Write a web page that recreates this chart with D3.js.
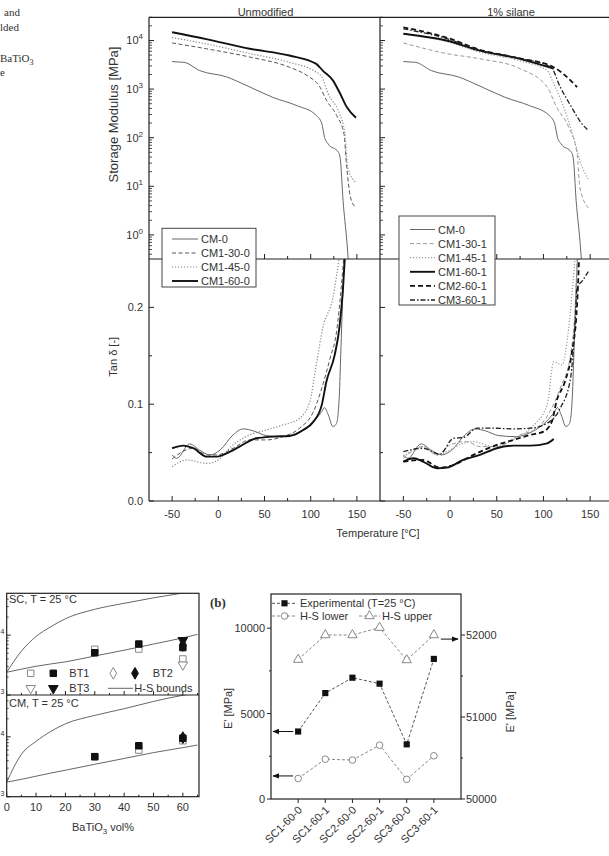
<!DOCTYPE html>
<html><head><meta charset="utf-8">
<script src="https://cdn.jsdelivr.net/npm/d3@7"></script>
<style>
body{margin:0;background:#fff}
svg{display:block}
text{font-family:"Liberation Sans",Arial,sans-serif;fill:#333}
</style>
</head><body>
<svg id="c" width="609" height="856"></svg>
<script>
// ================= DATA =================
// --- Top figure: DMA curves ---
const tempMajor = [-50, 0, 50, 100, 150];
const tempMinor = [-25, 25, 75, 125];
const smMajor = [1, 10, 100, 1000, 10000];
const tanMajor = [0.0, 0.1, 0.2];
const tanMinor = [0.05, 0.15];
const panelTitles = ["Unmodified", "1% silane"];

// Storage modulus [MPa]
const smT_CM0 = [-50,-45,-37,-20,9,31,59,85,106,112,115,119,130,132,135,139,141];
const smE_CM0 = [3700,3630,3550,2400,1780,1175,676,457,288,195,102,74,50,37,5.1,0.78,0.25];
const smT_CM1_30_0 = [-50,-13,34,77,96,110,117,128,136,139,143,148];
const smE_CM1_30_0 = [8900,6760,4570,2820,1900,1100,590,288,120,24.5,6.0,3.8];
const smT_CM1_45_0 = [-50,-13,34,77,103,112,119,131,137,140,149];
const smE_CM1_45_0 = [11500,8500,5400,3550,2400,1780,794,316,123,24.5,12];
const smT_CM1_60_0 = [-50,-13,34,77,106,113,124,131,139,149];
const smE_CM1_60_0 = [14800,10700,6760,4900,3310,2400,1510,870,427,257];
const smT_CM1_30_1 = [-50,-4,32,75,104,114,127,136,139,148];
const smE_CM1_30_1 = [8900,5400,4200,2630,1100,427,166,47,9.5,3.6];
const smT_CM1_45_1 = [-50,-4,32,75,104,111,123,136,139,148];
const smE_CM1_45_1 = [13800,9500,5750,3800,2400,1290,363,55,34,14];
const smT_CM1_60_1 = [-50,-4,32,75,111];
const smE_CM1_60_1 = [13800,10000,6200,4200,2630];
const smT_CM2_60_1 = [-50,-4,32,75,111,125,136];
const smE_CM2_60_1 = [18600,11500,6450,4270,2820,1780,1100];
const smT_CM3_60_1 = [-50,-4,32,75,108,118,130,141,148];
const smE_CM3_60_1 = [17400,11000,6300,4270,2820,1100,427,195,141];

// Tan delta [-]
const tdT_CM0 = [-50,-45,-31,-20,-9,2,16,27,38,52,70,88,103,112,115,119,124,128,131,132.5,135,137];
const tdV_CM0 = [.0476,.0441,.059,.0524,.0476,.0527,.0683,.0745,.0724,.0676,.0665,.0717,.082,.0924,.0965,.089,.0769,.0803,.1096,.151,.22,.26];
const tdT_CM1_30_0 = [-50,-38,-27,-12.5,-2,16,34,52,70,88,103,112,121,128,133,136.5];
const tdV_CM1_30_0 = [.0435,.0514,.0545,.0476,.0476,.0545,.0631,.0631,.0665,.0752,.0924,.1165,.1476,.175,.22,.26];
const tdT_CM1_45_0 = [-50,-34,-12.5,-2,16,34,52,70,88,99,106,113,124,132];
const tdV_CM1_45_0 = [.0355,.0424,.0389,.0413,.058,.0683,.0734,.0786,.0855,.1027,.1406,.1786,.21,.26];
const tdT_CM1_60_0 = [-50,-38,-27,-12.5,-2,9,23,41,59,77,92,103,112,117,126,131,135,137.5];
const tdV_CM1_60_0 = [.0545,.0572,.0545,.0458,.0458,.0493,.0562,.0648,.0665,.0672,.0734,.082,.0993,.1234,.151,.1786,.22,.26];
const tdT_CM1_30_1 = [-50,-29,-14,0,18,32,50,75,93,107,118,129,134,136.5];
const tdV_CM1_30_1 = [.0441,.0562,.0476,.058,.0614,.0562,.0562,.0683,.0752,.0924,.1165,.151,.2027,.26];
const tdT_CM1_45_1 = [-50,-29,-14,-3.5,14,25,46,68,86,104,111,120,127,134.5];
const tdV_CM1_45_1 = [.0458,.0562,.0476,.051,.0596,.0614,.0562,.0631,.0752,.0993,.1441,.1406,.1786,.26];
const tdT_CM1_60_1 = [-50,-39,-29,-14,-3.5,14,32,50,68,86,104,111];
const tdV_CM1_60_1 = [.0407,.0441,.0407,.0338,.0345,.0424,.0476,.0545,.0572,.0572,.0596,.064];
const tdT_CM2_60_1 = [-50,-29,-11,3.6,25,50,68,86,100,109,114,123,130,136,138.5];
const tdV_CM2_60_1 = [.0407,.0424,.0345,.0372,.0476,.0579,.0631,.0683,.0717,.082,.103,.1234,.151,.2027,.26];
const tdT_CM3_60_1 = [-50,-29,-11,3.6,14,29,46,68,86,104,118,129,134,136,142,148];
const tdV_CM3_60_1 = [.051,.0545,.0483,.0648,.0655,.0752,.0752,.0745,.0752,.0803,.0959,.1268,.186,.22,.228,.237];

// --- Figure (a): modulus vs BaTiO3 content ---
const volTicks = [0,10,20,30,40,50,60];
const volHS = [0,5,10,15,20,30,40,50,60,65];
const scLower = [2400,2700,3020,3300,3580,4480,5600,7100,9000,10300];
const scUpper = [2400,5400,9500,13800,18800,27000,34000,42000,50500,55000];
const cmLower = [1750,1950,2200,2480,2770,3480,4350,5450,6600,7300];
const cmUpper = [1750,5100,8400,12300,16500,22800,29500,39000,49500,54000];
const volBT1 = [30,45,60];
const scBT1open = [5800,5860,4000];
const scBT1fill = [5080,7100,6200];
const cmBT1open = [4660,6020,8600];
const cmBT1fill = [4660,7100,9500];
const volBT23 = [60];
const scBT2open = [7100];
const scBT2fill = [6750];
const scBT3open = [3200];
const scBT3fill = [8200];
const cmBT2fill = [9700];

// --- Figure (b) ---
const samples = ["SC1-60-0","SC1-60-1","SC2-60-0","SC2-60-1","SC3-60-0","SC3-60-1"];
const expE = [3950,6200,7100,6750,3200,8200];
const hsLowerE = [1200,2330,2280,3150,1150,2530];
const hsUpperE = [51700,52000,52000,52090,51695,52000];
const bLeftTicks = [0,5000,10000];
const bRightTicks = [50000,51000,52000];
const arrowLeftVals = [3950,1350];
const arrowRightVal = 51950;

// ================= DRAWING =================
const svg = d3.select("#c");
const defs = svg.append("defs");
const ink = "#222";

function clip(id, x0, y0, x1, y1) {
  defs.append("clipPath").attr("id", id).append("rect")
    .attr("x", x0).attr("y", y0).attr("width", x1 - x0).attr("height", y1 - y0);
  return "url(#" + id + ")";
}
function hline(x0, x1, y, w, col) {
  svg.append("line").attr("x1", x0).attr("x2", x1).attr("y1", y).attr("y2", y)
    .attr("stroke", col || ink).attr("stroke-width", w || 1);
}
function vline(x, y0, y1, w, col) {
  svg.append("line").attr("x1", x).attr("x2", x).attr("y1", y0).attr("y2", y1)
    .attr("stroke", col || ink).attr("stroke-width", w || 1);
}

// caption fragments at top-left (cropped text of the page)
const serif = "'Liberation Serif','Times New Roman',serif";
function capText(x, y, s) {
  return svg.append("text").attr("x", x).attr("y", y).style("font-family", serif).style("font-size", "11px").text(s);
}
capText(4, 16, "and");
capText(0, 30.5, "lded");
const bt = capText(0, 62, "");
bt.append("tspan").text("BaTiO");
bt.append("tspan").attr("dy", 3).style("font-size", "8px").text("3");
capText(0, 76, "e");

// ---- Top figure scales ----
const xL = d3.scaleLinear().domain([-75, 175]).range([149, 380]);
const xR = d3.scaleLinear().domain([-75, 175]).range([380, 613.5]);
const yS = d3.scaleLog().domain([0.319, 30000]).range([259, 17.3]);
const yT = d3.scaleLinear().domain([0, 0.25]).range([501, 259]);

const clipSL = clip("cSL", 149, 17.3, 380, 259);
const clipSR = clip("cSR", 380, 17.3, 613.5, 259);
const clipTL = clip("cTL", 149, 259, 380, 501);
const clipTR = clip("cTR", 380, 259, 613.5, 501);

const styles = {
  "CM-0":     {c:"#666", w:1,   d:null},
  "CM1-30-0": {c:"#555", w:1,   d:"4,2.5"},
  "CM1-45-0": {c:"#888", w:1.2, d:"1.2,1.8"},
  "CM1-60-0": {c:"#111", w:1.9, d:null},
  "CM1-30-1": {c:"#999", w:1,   d:"4,2.5"},
  "CM1-45-1": {c:"#999", w:1.2, d:"1.2,1.8"},
  "CM1-60-1": {c:"#111", w:1.9, d:null},
  "CM2-60-1": {c:"#111", w:1.8, d:"5,3"},
  "CM3-60-1": {c:"#222", w:1.3, d:"5,2,1.5,2"}
};

function drawCurve(xs, ys, T, V, name, clipUrl) {
  const st = styles[name];
  const data = T.map((t, i) => [t, V[i]]);
  const ln = d3.line().x(d => xs(d[0])).y(d => ys(d[1])).curve(d3.curveMonotoneX);
  svg.append("path").attr("d", ln(data)).attr("clip-path", clipUrl)
    .attr("fill", "none").attr("stroke", st.c).attr("stroke-width", st.w)
    .attr("stroke-dasharray", st.d).attr("stroke-linejoin", "round");
}

const leftSeries = [
  ["CM-0", smT_CM0, smE_CM0, tdT_CM0, tdV_CM0],
  ["CM1-30-0", smT_CM1_30_0, smE_CM1_30_0, tdT_CM1_30_0, tdV_CM1_30_0],
  ["CM1-45-0", smT_CM1_45_0, smE_CM1_45_0, tdT_CM1_45_0, tdV_CM1_45_0],
  ["CM1-60-0", smT_CM1_60_0, smE_CM1_60_0, tdT_CM1_60_0, tdV_CM1_60_0]
];
const rightSeries = [
  ["CM-0", smT_CM0, smE_CM0, tdT_CM0, tdV_CM0],
  ["CM1-30-1", smT_CM1_30_1, smE_CM1_30_1, tdT_CM1_30_1, tdV_CM1_30_1],
  ["CM1-45-1", smT_CM1_45_1, smE_CM1_45_1, tdT_CM1_45_1, tdV_CM1_45_1],
  ["CM1-60-1", smT_CM1_60_1, smE_CM1_60_1, tdT_CM1_60_1, tdV_CM1_60_1],
  ["CM2-60-1", smT_CM2_60_1, smE_CM2_60_1, tdT_CM2_60_1, tdV_CM2_60_1],
  ["CM3-60-1", smT_CM3_60_1, smE_CM3_60_1, tdT_CM3_60_1, tdV_CM3_60_1]
];
leftSeries.forEach(s => { drawCurve(xL, yS, s[1], s[2], s[0], clipSL); drawCurve(xL, yT, s[3], s[4], s[0], clipTL); });
rightSeries.forEach(s => { drawCurve(xR, yS, s[1], s[2], s[0], clipSR); drawCurve(xR, yT, s[3], s[4], s[0], clipTR); });

// frames
hline(xL.range()[0], xR.range()[1], yS.range()[1], 1.2);
hline(xL.range()[0], xR.range()[1], yS.range()[0], 1.2);
hline(xL.range()[0], xR.range()[1], yT.range()[0], 1.2);
vline(xL.range()[0], yS.range()[1], yT.range()[0], 1.2);
vline(xR.range()[0], yS.range()[1], yT.range()[0], 1.2);

// x ticks (inward) on bottom axis and divider
[xL, xR].forEach(xs => {
  [yT.range()[0], yS.range()[0]].forEach(y0 => {
    tempMajor.forEach(t => vline(xs(t), y0, y0 - 5, 1));
    tempMinor.forEach(t => vline(xs(t), y0, y0 - 3, 1));
  });
  tempMajor.forEach(t => svg.append("text").attr("x", xs(t)).attr("y", 518)
    .attr("text-anchor", "middle").style("font-size", "11px").text(t));
});
// y ticks
const smMinor = [];
[0.1, 1, 10, 100, 1000, 10000].forEach(d => { for (let k = 2; k <= 9; k++) { const v = d * k; if (v >= yS.domain()[0] && v <= yS.domain()[1]) smMinor.push(v); } });
[xL.range()[0], xR.range()[0]].forEach(x0 => {
  smMajor.forEach(v => hline(x0, x0 + 5, yS(v), 1));
  smMinor.forEach(v => hline(x0, x0 + 3, yS(v), 0.8));
  tanMajor.forEach(v => hline(x0, x0 + 5, yT(v), 1));
  tanMinor.forEach(v => hline(x0, x0 + 3, yT(v), 1));
});
smMajor.forEach(v => {
  const t = svg.append("text").attr("x", 143).attr("y", yS(v) + 4).attr("text-anchor", "end").style("font-size", "11px");
  t.append("tspan").text("10");
  t.append("tspan").attr("dy", -5).style("font-size", "8px").text(Math.round(Math.log10(v)));
});
tanMajor.forEach(v => svg.append("text").attr("x", 143).attr("y", yT(v) + 4)
  .attr("text-anchor", "end").style("font-size", "11px").text(v.toFixed(1)));

// titles and axis labels
svg.append("text").attr("x", d3.mean(xL.range()) + 1).attr("y", 15.5).attr("text-anchor", "middle").style("font-size", "11px").text(panelTitles[0]);
svg.append("text").attr("x", 511).attr("y", 15.5).attr("text-anchor", "middle").style("font-size", "11px").text(panelTitles[1]);
svg.append("text").attr("transform", "translate(118," + yS(300) + ") rotate(-90)")
  .attr("text-anchor", "middle").style("font-size", "13px").text("Storage Modulus [MPa]");
svg.append("text").attr("transform", "translate(117," + yT(0.149) + ") rotate(-90)")
  .attr("text-anchor", "middle").style("font-size", "11px").text("Tan δ [-]");
svg.append("text").attr("x", 378).attr("y", 537).attr("text-anchor", "middle").style("font-size", "11px").text("Temperature [°C]");

// legends
function legend(x0, y0, w, h, names, ys0, dy, sx0, sx1, tx) {
  svg.append("rect").attr("x", x0).attr("y", y0).attr("width", w).attr("height", h)
    .attr("fill", "#fff").attr("stroke", "#444").attr("stroke-width", 1);
  names.forEach((n, i) => {
    const y = ys0 + i * dy, st = styles[n];
    svg.append("line").attr("x1", sx0).attr("x2", sx1).attr("y1", y).attr("y2", y)
      .attr("stroke", st.c).attr("stroke-width", st.w).attr("stroke-dasharray", st.d);
    svg.append("text").attr("x", tx).attr("y", y + 4).style("font-size", "11px").text(n);
  });
}
legend(162, 228.3, 94, 58.7, leftSeries.map(s => s[0]), 239, 14, 172, 198, 201);
legend(399, 216, 96, 89, rightSeries.map(s => s[0]), 229.5, 14.1, 410, 435, 438);

// ================= Figure (a) =================
const xA = d3.scaleLinear().domain([0, 65.5]).range([6.7, 199]);
const yA1 = d3.scaleLog().domain([1000, 50000]).range([695, 593.3]);
const yA2 = d3.scaleLog().domain([1000, 50000]).range([796.7, 695]);
const clipA1 = clip("cA1", 6.7, 593.3, 199, 695);
const clipA2 = clip("cA2", 6.7, 695, 199, 796.7);

function hsLine(ys, vals, clipUrl) {
  const ln = d3.line().x(d => xA(d[0])).y(d => ys(d[1])).curve(d3.curveMonotoneX);
  svg.append("path").attr("d", ln(volHS.map((v, i) => [v, vals[i]]))).attr("clip-path", clipUrl)
    .attr("fill", "none").attr("stroke", "#666").attr("stroke-width", 1);
}
hsLine(yA1, scLower, clipA1); hsLine(yA1, scUpper, clipA1);
hsLine(yA2, cmLower, clipA2); hsLine(yA2, cmUpper, clipA2);

const sq = d3.symbol().type(d3.symbolSquare).size(42);
const dia = d3.symbol().type(d3.symbolDiamond).size(40);
const tri = d3.symbol().type(d3.symbolTriangle).size(40);
function mark(gen, x, y, filled, rot) {
  svg.append("path").attr("d", gen()).attr("transform", "translate(" + x + "," + y + ")" + (rot ? " rotate(180)" : ""))
    .attr("fill", filled ? "#111" : "#fff").attr("stroke", filled ? "#111" : "#888").attr("stroke-width", 1);
}
// SC markers
volBT1.forEach((v, i) => mark(sq, xA(v), yA1(scBT1open[i]), false));
volBT1.forEach((v, i) => mark(sq, xA(v), yA1(scBT1fill[i]), true));
volBT23.forEach((v, i) => { mark(dia, xA(v), yA1(scBT2open[i]), false); mark(tri, xA(v), yA1(scBT3open[i]), false, true); });
volBT23.forEach((v, i) => { mark(dia, xA(v), yA1(scBT2fill[i]), true); mark(tri, xA(v), yA1(scBT3fill[i]), true, true); });
// CM markers
volBT1.forEach((v, i) => mark(sq, xA(v), yA2(cmBT1open[i]), false));
volBT1.forEach((v, i) => mark(sq, xA(v), yA2(cmBT1fill[i]), true));
volBT23.forEach((v, i) => mark(dia, xA(v), yA2(cmBT2fill[i]), true));

// frame (a)
svg.append("rect").attr("x", 6.7).attr("y", 593.3).attr("width", 192.3).attr("height", 203.4)
  .attr("fill", "none").attr("stroke", ink).attr("stroke-width", 1.2);
hline(6.7, 199, 695, 1.2);
// ticks (a)
[796.7, 695].forEach(y0 => {
  volTicks.forEach(v => vline(xA(v), y0, y0 - 4, 1));
  volTicks.forEach(v => { if (v + 5 <= 65) vline(xA(v + 5), y0, y0 - 2, 1); });
});
[yA1, yA2].forEach(ys => {
  [1000, 10000].forEach(v => hline(6.7, 10.7, ys(v), 1));
  [2000,3000,4000,5000,6000,7000,8000,9000,20000,30000,40000].forEach(v => hline(6.7, 8.7, ys(v), 0.8));
  // only the exponents of the "10^n" labels are inside the page (the rest is cropped)
  [1000, 10000].forEach(v => svg.append("text").attr("x", 0.5).attr("y", ys(v) - 1)
    .style("font-size", "7px").text(Math.round(Math.log10(v))));
});
volTicks.forEach(v => svg.append("text").attr("x", xA(v)).attr("y", 811).attr("text-anchor", "middle").style("font-size", "11px").text(v));
const xlabA = svg.append("text").attr("x", 103).attr("y", 831).attr("text-anchor", "middle").style("font-size", "11px");
xlabA.append("tspan").text("BaTiO");
xlabA.append("tspan").attr("dy", 3).style("font-size", "8px").text("3");
xlabA.append("tspan").attr("dy", -3).text(" vol%");
svg.append("text").attr("x", 9).attr("y", 603).style("font-size", "11px").text("SC,  T = 25 °C");
svg.append("text").attr("x", 9).attr("y", 706.5).style("font-size", "11px").text("CM,  T = 25 °C");
// legend (a)
mark(sq, 30.7, 673.3, false); mark(sq, 53.3, 673.3, true);
svg.append("text").attr("x", 69.3).attr("y", 677.3).style("font-size", "11px").text("BT1");
mark(dia, 113.3, 673.3, false); mark(dia, 135, 673.3, true);
svg.append("text").attr("x", 152.7).attr("y", 677.3).style("font-size", "11px").text("BT2");
mark(tri, 30.7, 688.3, false, true); mark(tri, 53.3, 688.3, true, true);
svg.append("text").attr("x", 69.3).attr("y", 692.3).style("font-size", "11px").text("BT3");
hline(108, 133, 688.3, 1, "#666");
svg.append("text").attr("x", 134.3).attr("y", 692.3).style("font-size", "11px").text("H-S bounds");

// ================= Figure (b) =================
const xB = d3.scalePoint().domain(samples).range([271, 461]).padding(1);
const yB = d3.scaleLinear().domain([0, 12000]).range([799, 594]);
const yB2 = d3.scaleLinear().domain([50000, 52500]).range([799, 594]);

function bSeries(ys, vals, col, markerFn) {
  const ln = d3.line().x((d, i) => xB(samples[i])).y(d => ys(d));
  svg.append("path").attr("d", ln(vals)).attr("fill", "none").attr("stroke", col)
    .attr("stroke-width", 1).attr("stroke-dasharray", "3,2");
  vals.forEach((v, i) => markerFn(xB(samples[i]), ys(v)));
}
const sqB = d3.symbol().type(d3.symbolSquare).size(38);
const triB = d3.symbol().type(d3.symbolTriangle).size(38);
const mSq = (x, y) => svg.append("path").attr("d", sqB()).attr("transform", "translate(" + x + "," + y + ")").attr("fill", "#111");
const mCirc = (x, y) => svg.append("circle").attr("cx", x).attr("cy", y).attr("r", 3.3).attr("fill", "#fff").attr("stroke", "#888").attr("stroke-width", 1);
const mTri = (x, y) => svg.append("path").attr("d", triB()).attr("transform", "translate(" + x + "," + y + ")").attr("fill", "#fff").attr("stroke", "#888").attr("stroke-width", 1);
bSeries(yB2, hsUpperE, "#888", mTri);
bSeries(yB, hsLowerE, "#888", mCirc);
bSeries(yB, expE, "#555", mSq);

// frame (b)
svg.append("rect").attr("x", 271).attr("y", 594).attr("width", 190).attr("height", 205)
  .attr("fill", "none").attr("stroke", ink).attr("stroke-width", 1.2);
bLeftTicks.forEach(v => {
  hline(267, 271, yB(v), 1);
  svg.append("text").attr("x", 265).attr("y", yB(v) + 4).attr("text-anchor", "end").style("font-size", "11px").text(v);
});
[2500, 7500].forEach(v => hline(269, 271, yB(v), 1));
bRightTicks.forEach(v => {
  hline(461, 465, yB2(v), 1);
  svg.append("text").attr("x", 466).attr("y", yB2(v) + 4).style("font-size", "11px").text(v);
});
[50500, 51500].forEach(v => hline(461, 463, yB2(v), 1));
samples.forEach(s => {
  vline(xB(s), 799, 803, 1);
  svg.append("text").attr("transform", "translate(" + (xB(s) + 2) + ",808) rotate(-45)")
    .attr("text-anchor", "end").attr("dy", "0.35em").style("font-size", "11px").text(s);
});
svg.append("text").attr("transform", "translate(232," + yB(5300) + ") rotate(-90)")
  .attr("text-anchor", "middle").style("font-size", "11px").text("E' [MPa]");
svg.append("text").attr("transform", "translate(514," + yB(5100) + ") rotate(-90)")
  .attr("text-anchor", "middle").style("font-size", "11px").text("E' [MPa]");
svg.append("text").attr("x", 210).attr("y", 607).style("font-family", serif)
  .style("font-weight", "bold").style("font-size", "13px").text("(b)");

// arrows
defs.append("marker").attr("id", "ah").attr("viewBox", "0 0 10 10").attr("refX", 9).attr("refY", 5)
  .attr("markerWidth", 7).attr("markerHeight", 7).attr("markerUnits", "userSpaceOnUse").attr("orient", "auto")
  .append("path").attr("d", "M0,1 L10,5 L0,9 Z").attr("fill", "#111");
arrowLeftVals.forEach(v => svg.append("line").attr("x1", xB(samples[0]) - 5).attr("x2", 273)
  .attr("y1", yB(v)).attr("y2", yB(v)).attr("stroke", "#111").attr("stroke-width", 1).attr("marker-end", "url(#ah)"));
svg.append("line").attr("x1", xB(samples[5]) + 7).attr("x2", 458).attr("y1", yB2(arrowRightVal)).attr("y2", yB2(arrowRightVal))
  .attr("stroke", "#111").attr("stroke-width", 1).attr("marker-end", "url(#ah)");

// legend (b)
function bLeg(x0, x1, y, col, markerFn, label, tx) {
  svg.append("line").attr("x1", x0).attr("x2", x1).attr("y1", y).attr("y2", y).attr("stroke", col).attr("stroke-dasharray", "3,2");
  markerFn((x0 + x1) / 2, y);
  svg.append("text").attr("x", tx).attr("y", y + 4).style("font-size", "11px").text(label);
}
bLeg(272, 297, 603.3, "#555", mSq, "Experimental (T=25 °C)", 300);
bLeg(272, 297, 616, "#888", mCirc, "H-S lower", 300);
bLeg(359, 380, 616, "#888", mTri, "H-S upper", 382);
</script>
</body></html>
